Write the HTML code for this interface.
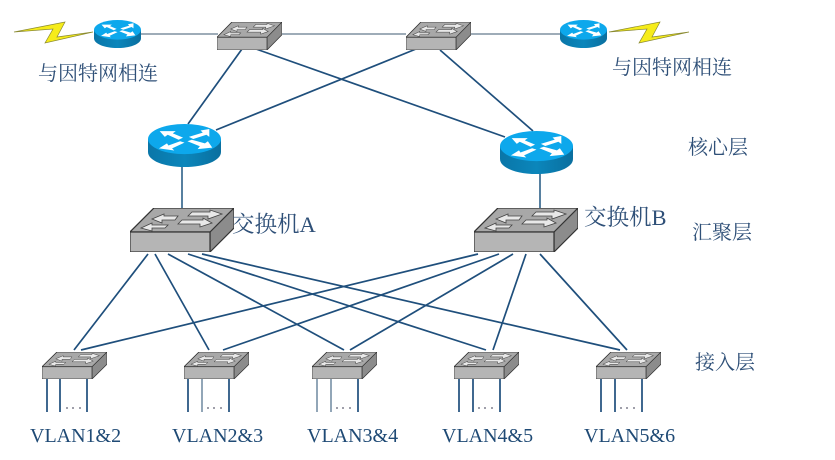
<!DOCTYPE html>
<html><head><meta charset="utf-8"><style>
html,body{margin:0;padding:0;background:#fff;width:835px;height:460px;overflow:hidden}
svg{display:block}
text{font-family:"Liberation Serif","Noto Serif CJK SC",serif;fill:#2f5078}
</style></head><body>
<svg width="835" height="460" viewBox="0 0 835 460" xmlns="http://www.w3.org/2000/svg">
<defs>
<linearGradient id="g" x1="0" x2="1" y1="0" y2="0"><stop offset="0" stop-color="#0a76a8"/><stop offset=".5" stop-color="#0b86bb"/><stop offset="1" stop-color="#0a6f9f"/></linearGradient>
<symbol id="router" viewBox="0 0 100 60" preserveAspectRatio="none">
<path d="M0 21V39C0 51 22 60 50 60S100 51 100 39V21Z" fill="url(#g)"/>
<ellipse cx="50" cy="21" rx="50" ry="21" fill="#0da8ec"/>
<g fill="#fff">
<path d="M16 10L38 10L34 13L48 19L42 22L27 15L23 18Z"/>
<path d="M84 7L72 9L75 12L56 18L62 21L80 15L84 18Z"/>
<path d="M15 34L26 27L28 30L44 24L50 26L33 34L36 37Z"/>
<path d="M88 33L68 35L71 31L54 24L60 22L78 27L82 24Z"/>
</g>
</symbol>
<symbol id="sw" viewBox="0 0 104 44" preserveAspectRatio="none">
<path d="M0 24L24 0H104V20L80 44V24Z" fill="#8c8c8c" stroke="#333" stroke-width="1.2"/>
<path d="M0 24L24 0H104L80 24Z" fill="#a8a8a8" stroke="#333" stroke-width="1.2"/>
<rect x="0" y="24" width="80" height="20" fill="#b5b5b5" stroke="#333" stroke-width="1.2"/>
<g fill="#e8e8e8" stroke="#444" stroke-width=".8">
<path d="M22 11L34 6V8H48L45 12H32V15Z"/>
<path d="M92 6L80 2V4H62L58 8H78V11Z"/>
<path d="M11 20L22 15V17H38L35 20H22V23Z" />
<path d="M82 15L73 10V12H52L48 16H70V19Z"/>
</g>
</symbol>
</defs>
<g style="filter:blur(.35px)">
<g stroke="#1f4f7c" stroke-width="1.7" fill="none">
<path d="M148 254L74 350M155 254L209 350M168 254L344 350M188 254L486 350M202 254L620 350"/>
<path d="M478 254L81 350M499 254L223 350M513 254L350 350M526 254L493 350M540 254L627 350"/>
<path d="M242 49L188 124M256 49L505 137M416 49L216 130M440 50L533 131"/>
<path d="M182 166V208M540 174V208" stroke="#3a6a90"/>
<path d="M141 34H218M282 34H406M471 34H560" stroke-width="1" stroke="#3d5a70"/>
<path d="M47 379V412M60 379V412M87 379V412M188 379V412M229 379V412M459 379V412M473 379V412M500 379V412M601 379V412M615 379V412M642 379V412M358 379V412"/>
<path d="M202 379V412M317 379V412M331 379V412" stroke="#7f97ab"/>
</g>
<path d="M66 408h2M72 408h2M79 408h2M207 408h2M213 408h2M220 408h2M336 408h2M342 408h2M349 408h2M478 408h2M484 408h2M491 408h2M620 408h2M626 408h2M633 408h2" stroke="#667" stroke-width="1.2" fill="none"/>
<path d="M14 32L65 22L57 37L93 32L45 43L53 29Z" fill="#f6ec1a" stroke="#8a8a30" stroke-width=".7"/>
<path d="M609 32L660 22L652 37L689 32L639 43L647 29Z" fill="#f6ec1a" stroke="#8a8a30" stroke-width=".7"/>
<use href="#router" x="94" y="20" width="47" height="28"/>
<use href="#router" x="560" y="20" width="47" height="28"/>
<use href="#router" x="148" y="124" width="73" height="43"/>
<use href="#router" x="500" y="131" width="73" height="43"/>
<use href="#sw" x="217" y="22" width="65" height="28"/>
<use href="#sw" x="406" y="22" width="65" height="28"/>
<use href="#sw" x="130" y="208" width="104" height="44"/>
<use href="#sw" x="474" y="208" width="104" height="44"/>
<use href="#sw" x="42" y="352" width="65" height="27"/>
<use href="#sw" x="184" y="352" width="65" height="27"/>
<use href="#sw" x="312" y="352" width="65" height="27"/>
<use href="#sw" x="454" y="352" width="65" height="27"/>
<use href="#sw" x="596" y="352" width="65" height="27"/>
<g font-size="20">
<text x="38" y="80">与因特网相连</text>
<text x="612" y="74">与因特网相连</text>
<text x="688" y="154">核心层</text>
<text x="692" y="239">汇聚层</text>
<text x="695" y="369">接入层</text>
</g>
<g font-size="22.5">
<text x="232" y="232">交换机A</text>
<text x="584" y="225">交换机B</text>
</g>
<g font-size="20">
<text x="30" y="442" style="fill:#1f4a75">VLAN1&amp;2</text>
<text x="172" y="442" style="fill:#1f4a75">VLAN2&amp;3</text>
<text x="307" y="442" style="fill:#1f4a75">VLAN3&amp;4</text>
<text x="442" y="442" style="fill:#1f4a75">VLAN4&amp;5</text>
<text x="584" y="442" style="fill:#1f4a75">VLAN5&amp;6</text>
</g>
</g>
</svg>
</body></html>
